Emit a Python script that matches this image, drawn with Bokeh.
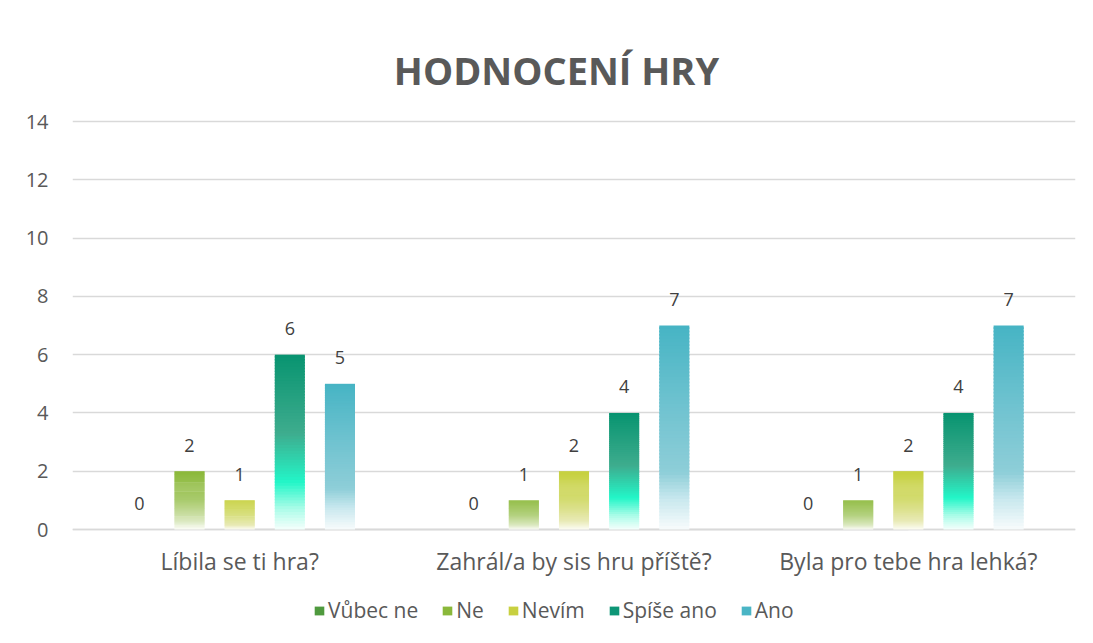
from bokeh.plotting import figure
from bokeh.models import (FactorRange, Range1d, ColumnDataSource, Legend, LegendItem,
                          Label, FixedTicker)
from bokeh.transform import dodge
from bokeh.core.properties import value
from bokeh.embed import file_html
from bokeh.resources import INLINE

# ---------------- data ----------------
categories = ["Líbila se ti hra?", "Zahrál/a by sis hru příště?", "Byla pro tebe hra lehká?"]
series_names = ["Vůbec ne", "Ne", "Nevím", "Spíše ano", "Ano"]
vubec_ne = [0, 0, 0]
ne = [2, 1, 1]
nevim = [1, 2, 2]
spise_ano = [6, 4, 4]
ano = [5, 7, 7]
y_ticks = [0, 2, 4, 6, 8, 10, 12, 14]
title_text = "HODNOCENÍ HRY"

# ---------------- style / layout ----------------
FONT = "Open Sans"
TXT = "#595959"
offsets = [-0.3, -0.15, 0.0, 0.15, 0.3]
bar_w = 0.09
PX_PER_UNIT = 408 / 14.0           # plot area: 14 units over 408 px
Y_TOP = 14 + 121 / PX_PER_UNIT      # frame extended up to canvas top (title area)
Y_BOT = -(643 - 529) / PX_PER_UNIT  # frame extended down to canvas bottom (labels, legend)

# gradient stops (fraction of bar height from bottom, rgb)
stops = {
    "Vůbec ne": [(0.0, (235, 245, 232)), (0.2, (150, 195, 140)), (1.0, (70, 150, 60))],
    "Ne": [(0.0, (252, 253, 248)), (0.15, (215, 230, 185)), (0.5, (170, 203, 110)), (1.0, (138, 184, 56))],
    "Nevím": [(0.0, (253, 253, 245)), (0.15, (230, 232, 175)), (0.5, (212, 220, 115)), (1.0, (198, 208, 62))],
    "Spíše ano": [(0.0, (245, 255, 252)), (0.12, (170, 252, 232)), (0.27, (35, 246, 200)),
                  (0.55, (62, 172, 142)), (1.0, (8, 148, 112))],
    "Ano": [(0.0, (248, 251, 252)), (0.15, (200, 232, 238)), (0.28, (142, 206, 216)),
            (0.6, (112, 195, 208)), (1.0, (70, 180, 196))],
}
legend_col = {"Vůbec ne": "#4f9a3e", "Ne": "#8ab83a", "Nevím": "#c8d040",
              "Spíše ano": "#0d9676", "Ano": "#4ab5c5"}


def grad(name, f):
    st = stops[name]
    for (f0, c0), (f1, c1) in zip(st[:-1], st[1:]):
        if f0 <= f <= f1:
            t = (f - f0) / (f1 - f0) if f1 > f0 else 0
            c = [round(a + (b - a) * t) for a, b in zip(c0, c1)]
            return "#%02x%02x%02x" % tuple(c)
    c = st[-1][1]
    return "#%02x%02x%02x" % c


p = figure(frame_width=1003, frame_height=643, x_range=FactorRange(*categories),
           y_range=Range1d(Y_BOT, Y_TOP), title=None,
           output_backend="svg", toolbar_location=None,
           min_border_left=72, min_border_right=10, min_border_top=0, min_border_bottom=0,
           background_fill_color="white", border_fill_color="white")
p.outline_line_color = None
p.xaxis.visible = False

p.xgrid.grid_line_color = None
p.ygrid.grid_line_color = "#d9d9d9"
p.ygrid.grid_line_width = 1.3
p.yaxis.ticker = FixedTicker(ticks=y_ticks)
p.yaxis.axis_line_color = None
p.yaxis.major_tick_line_color = None
p.yaxis.minor_tick_line_color = None
p.yaxis.major_label_standoff = 18
p.yaxis.major_label_text_font = FONT
p.yaxis.major_label_text_font_size = "20px"
p.yaxis.major_label_text_color = TXT
p.x_range.range_padding = 0
p.x_range.group_padding = 0

# baseline (x axis line at 0)
p.segment(x0=[categories[0]], x1=[categories[-1]], y0=[0], y1=[0], line_color="#d9d9d9",
          line_width=1.6)
p.segment(x0=dodge("x0", -0.5, range=p.x_range), x1=dodge("x1", 0.5, range=p.x_range),
          y0="y", y1="y", line_color="#d9d9d9", line_width=1.6,
          source=ColumnDataSource(dict(x0=[categories[0]], x1=[categories[-1]], y=[0])))

# category labels
p.text(x="x", y="y", text="x", source=ColumnDataSource(dict(x=categories, y=[0] * len(categories))),
       text_align="center", text_baseline="middle", y_offset=31,
       text_font=value(FONT), text_font_size="23px", text_color=TXT)

data = {"Vůbec ne": vubec_ne, "Ne": ne, "Nevím": nevim, "Spíše ano": spise_ano, "Ano": ano}
N = 60
legend_items = []
for name, off in zip(series_names, offsets):
    vals = data[name]
    xs, bots, tops, cols = [], [], [], []
    for cat, v in zip(categories, vals):
        if v <= 0:
            continue
        for i in range(N):
            b = v * i / N
            t = v * (i + 1) / N
            if i < N - 1:
                t += v / N * 0.5
            xs.append(cat); bots.append(b); tops.append(t); cols.append(grad(name, (i + 0.5) / N))
    src = ColumnDataSource(dict(x=xs, bottom=bots, top=tops, color=cols))
    p.vbar(x=dodge("x", off, range=p.x_range), bottom="bottom", top="top", width=bar_w,
           fill_color="color", line_color=None, source=src)
    # data labels
    lsrc = ColumnDataSource(dict(x=categories, y=vals, t=[str(v) for v in vals]))
    p.text(x=dodge("x", off, range=p.x_range), y="y", text="t", source=lsrc,
           text_align="center", text_baseline="alphabetic", y_offset=-26,
           text_font=value(FONT), text_font_size="18px", text_color="#404040")
    # legend dummy
    dummy = p.vbar(x=[categories[0]], top=[0], bottom=[0], width=0, fill_color=legend_col[name],
                   line_color=None)
    legend_items.append(LegendItem(label=name, renderers=[dummy]))

legend = Legend(items=legend_items, orientation="horizontal", location=(241, 19),
                label_text_font=FONT, label_text_font_size="21px", label_text_color=TXT,
                glyph_width=12, glyph_height=11, label_standoff=3, spacing=23,
                border_line_color=None, background_fill_color=None, padding=0, margin=0)
p.add_layout(legend)

title = Label(x=484, y=643 - 69, x_units="screen", y_units="screen", text=title_text,
              text_align="center", text_baseline="alphabetic", text_font=FONT,
              text_font_style="bold", text_font_size="38px", text_color=TXT)
p.add_layout(title)

open("out.html", "w").write(file_html(p, INLINE))
